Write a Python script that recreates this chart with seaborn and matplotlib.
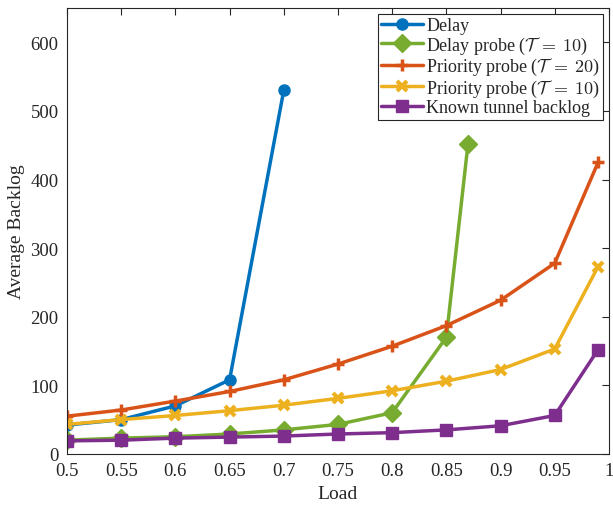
import matplotlib
matplotlib.use("Agg")
import matplotlib.pyplot as plt
import seaborn as sns

# Load points for each policy
load_delay = [0.5, 0.55, 0.6, 0.65, 0.7]
backlog_delay = [42, 50, 70, 108, 530]

load_delay_probe = [0.5, 0.55, 0.6, 0.65, 0.7, 0.75, 0.8, 0.85, 0.87]
backlog_delay_probe = [20, 23, 25, 29, 35, 43, 60, 170, 452]

load_prio = [0.5, 0.55, 0.6, 0.65, 0.7, 0.75, 0.8, 0.85, 0.9, 0.95, 0.99]
backlog_prio20 = [55, 64, 77, 91, 108, 131, 157, 187, 224, 278, 425]
backlog_prio10 = [43, 50, 56, 63, 71, 81, 92, 106, 123, 153, 273]
backlog_known = [19, 20, 23, 24.5, 26, 29, 31, 35, 41, 56, 152]

labels = [
    "Delay",
    r"Delay probe ($\mathcal{T}\:=\:10$)",
    r"Priority probe ($\mathcal{T}\:=\:20$)",
    r"Priority probe ($\mathcal{T}\:=\:10$)",
    "Known tunnel backlog",
]
x_ticks = [0.5, 0.55, 0.6, 0.65, 0.7, 0.75, 0.8, 0.85, 0.9, 0.95, 1.0]
x_tick_labels = ["0.5", "0.55", "0.6", "0.65", "0.7", "0.75", "0.8", "0.85", "0.9", "0.95", "1"]
y_ticks = [0, 100, 200, 300, 400, 500, 600]

sns.set_theme(style="white")
plt.rcParams["font.family"] = ["Liberation Serif", "DejaVu Serif"]
plt.rcParams["mathtext.fontset"] = "cm"

fig = plt.figure(figsize=(6.13, 5.06), dpi=100)
ax = fig.add_axes([0.1093, 0.101, 0.884, 0.881])

# (x, y, colour, marker, marker size, marker edge width)
series = [
    (load_delay, backlog_delay, "#0072BD", "o", 8, 1),
    (load_delay_probe, backlog_delay_probe, "#77AC30", "D", 9, 1),
    (load_prio, backlog_prio20, "#D95319", "+", 9, 2.5),
    (load_prio, backlog_prio10, "#EDB120", "x", 7, 3),
    (load_prio, backlog_known, "#7E2F8E", "s", 9, 1),
]

for (xs, ys, col, mk, ms, mew), lab in zip(series, labels):
    sns.lineplot(x=xs, y=ys, ax=ax, color=col, lw=2.5, marker=mk,
                 markersize=ms, markeredgewidth=mew, markeredgecolor=col,
                 markerfacecolor=col, label=lab)

ax.set_xlim(0.5, 1.0)
ax.set_ylim(0, 650)
ax.set_xticks(x_ticks)
ax.set_xticklabels(x_tick_labels)
ax.set_yticks(y_ticks)
ax.tick_params(direction="in", top=True, right=True, length=5, width=0.8,
               labelsize=13.5, colors="#262626", pad=6)
for sp in ax.spines.values():
    sp.set_color("#262626")
    sp.set_linewidth(0.8)
ax.set_xlabel("Load", fontsize=14, color="#262626")
ax.set_ylabel("Average Backlog", fontsize=14, color="#262626")

leg = ax.legend(loc="upper right", fontsize=13, frameon=True, fancybox=False,
                edgecolor="#262626", framealpha=1, borderpad=0.2,
                labelspacing=0.02, handlelength=2.3, handletextpad=0.2,
                borderaxespad=0.3)
leg.get_frame().set_linewidth(0.8)

fig.savefig("out.png", dpi=100)
